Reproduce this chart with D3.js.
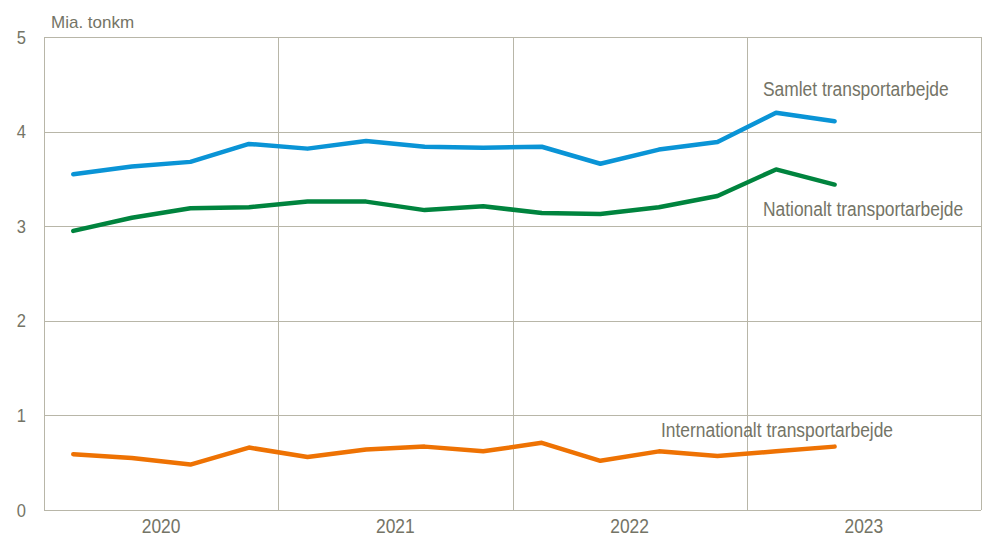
<!DOCTYPE html>
<html>
<head>
<meta charset="utf-8">
<script src="https://cdn.jsdelivr.net/npm/d3@7"></script>
<style>
  body { margin: 0; background: #fff; }
  text { font-family: "Liberation Sans", Arial, sans-serif; fill: #747466; }
</style>
</head>
<body>
<div id="chart"></div>
<script>
// Data (quarters 2020 Q1 - 2023 Q2)
const years = ['2020', '2021', '2022', '2023']
const quarters = ['2020K1','2020K2','2020K3','2020K4','2021K1','2021K2','2021K3','2021K4',
                  '2022K1','2022K2','2022K3','2022K4','2023K1','2023K2']
const samlet = [3.55, 3.63, 3.68, 3.87, 3.82, 3.90, 3.84, 3.83, 3.84, 3.66, 3.81, 3.89, 4.20, 4.11]
const nationalt = [2.95, 3.09, 3.19, 3.20, 3.26, 3.26, 3.17, 3.21, 3.14, 3.13, 3.20, 3.32, 3.60, 3.44]
const internationalt = [0.59, 0.55, 0.48, 0.66, 0.56, 0.64, 0.67, 0.62, 0.71, 0.52, 0.62, 0.57, 0.62, 0.67]
const yTicks = [0, 1, 2, 3, 4, 5]

const series = [
    {name: 'Samlet transportarbejde', values: samlet, color: '#0a94d6', lx: 763, ly: 96},
    {name: 'Nationalt transportarbejde', values: nationalt, color: '#00843e', lx: 763, ly: 216},
    {name: 'Internationalt transportarbejde', values: internationalt, color: '#ee7203', lx: 661, ly: 437}
]

// Dimensions
const width = 983, height = 536
const margin = {top: 37, right: 2, bottom: 26, left: 44}
const innerW = width - margin.left - margin.right
const innerH = height - margin.top - margin.bottom
const narrow = 0.87 // condensed look of the original font

const svg = d3.select('#chart')
    .append('svg')
    .attr('width', width)
    .attr('height', height)

const g = svg.append('g')
    .attr('transform', 'translate(' + margin.left + ',' + margin.top + ')')

// Scales
const xBand = d3.scaleBand().domain(years).range([0, innerW])
const x = d3.scaleLinear().domain([0, years.length * 4]).range([0, innerW])
const y = d3.scaleLinear().domain([0, 5]).range([innerH, 0])

const gridColor = '#b8b6a8'

// horizontal grid
g.selectAll('.hgrid')
    .data(yTicks)
    .enter()
    .append('line')
    .attr('x1', 0)
    .attr('x2', innerW)
    .attr('y1', d => Math.round(y(d)) + 0.5)
    .attr('y2', d => Math.round(y(d)) + 0.5)
    .attr('stroke', gridColor)
    .attr('stroke-width', 1)

// vertical grid (year boundaries + frame)
const vLines = [0].concat(years.map(d => xBand(d) + xBand.bandwidth()))
g.selectAll('.vgrid')
    .data(vLines)
    .enter()
    .append('line')
    .attr('x1', d => Math.round(d) + 0.5)
    .attr('x2', d => Math.round(d) + 0.5)
    .attr('y1', 0)
    .attr('y2', innerH)
    .attr('stroke', gridColor)
    .attr('stroke-width', 1)

// Y axis labels
g.selectAll('.ylab')
    .data(yTicks)
    .enter()
    .append('text')
    .attr('transform', d => 'translate(-18,' + y(d) + ') scale(' + narrow + ',1)')
    .attr('dy', '0.35em')
    .attr('text-anchor', 'end')
    .style('font-size', '19px')
    .text(d => d)

// X axis labels
g.selectAll('.xlab')
    .data(years)
    .enter()
    .append('text')
    .attr('transform', d => 'translate(' + (xBand(d) + xBand.bandwidth() / 2) + ',' + (innerH + 23) + ') scale(' + narrow + ',1)')
    .attr('text-anchor', 'middle')
    .style('font-size', '20px')
    .text(d => d)

// unit label
svg.append('text')
    .attr('x', 51)
    .attr('y', 28)
    .style('font-size', '17px')
    .text('Mia. tonkm')

// Lines
const line = d3.line()
    .x((d, i) => x(i + 0.5))
    .y(d => y(d))

g.selectAll('.series')
    .data(series)
    .enter()
    .append('path')
    .attr('d', d => line(d.values))
    .attr('fill', 'none')
    .attr('stroke', d => d.color)
    .attr('stroke-width', 4.5)
    .attr('stroke-linejoin', 'round')
    .attr('stroke-linecap', 'round')

// Series labels
svg.selectAll('.slab')
    .data(series)
    .enter()
    .append('text')
    .attr('transform', d => 'translate(' + d.lx + ',' + d.ly + ') scale(' + narrow + ',1)')
    .style('font-size', '20px')
    .text(d => d.name)
</script>
</body>
</html>
